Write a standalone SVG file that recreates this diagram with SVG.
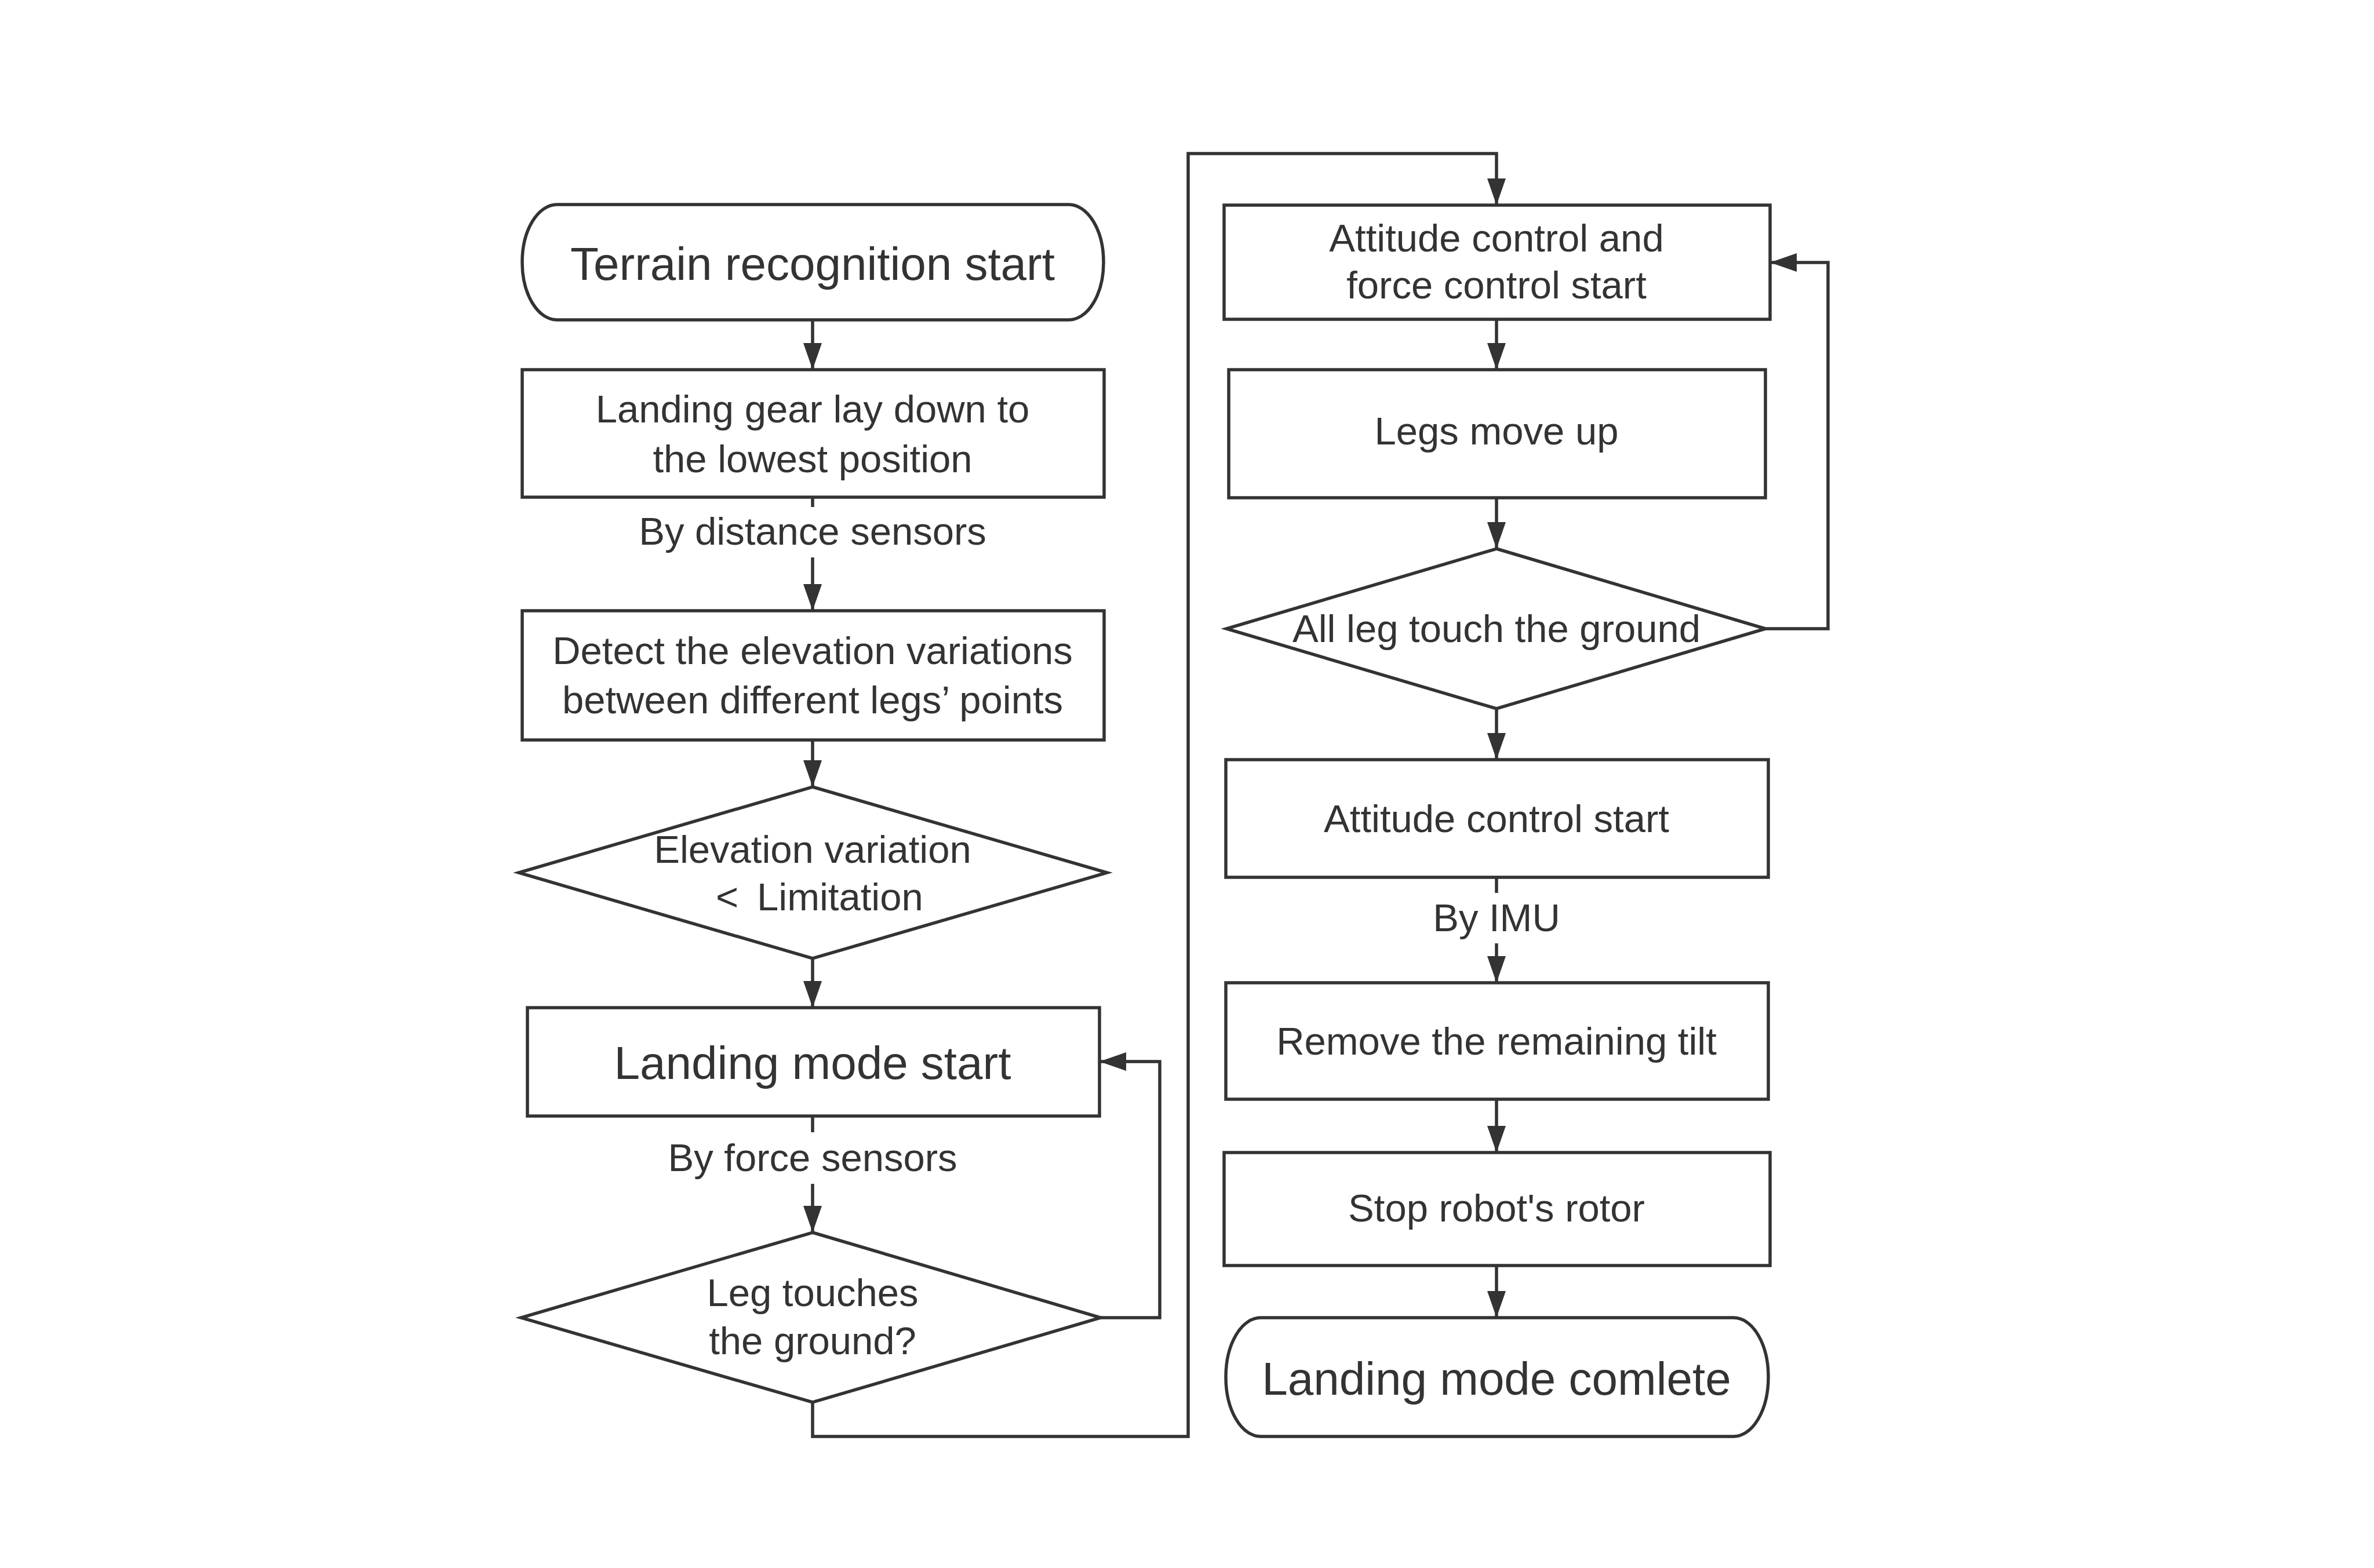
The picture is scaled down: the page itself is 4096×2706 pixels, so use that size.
<svg xmlns="http://www.w3.org/2000/svg" width="4096" height="2706" viewBox="0 0 4096 2706">
<style>
.n{fill:#ffffff;stroke:#333333;stroke-width:5.5}
.t{font-family:"Liberation Sans",Arial,sans-serif;font-size:67px;fill:#333333;text-anchor:middle}
.tl{font-family:"Liberation Sans",Arial,sans-serif;font-size:80px;fill:#333333;text-anchor:middle}
.c{fill:none;stroke:#333333;stroke-width:5.5}
</style>
<defs>
<marker id="ah" markerUnits="userSpaceOnUse" markerWidth="48" markerHeight="34" refX="46" refY="16" orient="auto">
<path d="M0,0 L46,16 L0,32 Z" fill="#333333"/>
</marker>
</defs>
<rect width="4096" height="2706" fill="#ffffff"/>
<g id="connectors">
<line class="c" x1="1402" y1="552" x2="1402" y2="638" marker-end="url(#ah)"/>
<line class="c" x1="1402" y1="858" x2="1402" y2="875"/>
<line class="c" x1="1402" y1="962" x2="1402" y2="1054" marker-end="url(#ah)"/>
<line class="c" x1="1402" y1="1277" x2="1402" y2="1358" marker-end="url(#ah)"/>
<line class="c" x1="1402" y1="1654" x2="1402" y2="1739" marker-end="url(#ah)"/>
<line class="c" x1="1402" y1="1926" x2="1402" y2="1954"/>
<line class="c" x1="1402" y1="2043" x2="1402" y2="2127" marker-end="url(#ah)"/>
<polyline class="c" points="1899,2274 2001,2274 2001,1832 1897,1832" marker-end="url(#ah)"/>
<polyline class="c" points="1402,2420 1402,2479 2050,2479 2050,265 2582,265 2582,354" marker-end="url(#ah)"/>
<line class="c" x1="2582" y1="551" x2="2582" y2="638" marker-end="url(#ah)"/>
<line class="c" x1="2582" y1="859" x2="2582" y2="947" marker-end="url(#ah)"/>
<polyline class="c" points="3046,1085 3154,1085 3154,453 3054,453" marker-end="url(#ah)"/>
<line class="c" x1="2582" y1="1223" x2="2582" y2="1311" marker-end="url(#ah)"/>
<line class="c" x1="2582" y1="1514" x2="2582" y2="1541"/>
<line class="c" x1="2582" y1="1628" x2="2582" y2="1696" marker-end="url(#ah)"/>
<line class="c" x1="2582" y1="1897" x2="2582" y2="1989" marker-end="url(#ah)"/>
<line class="c" x1="2582" y1="2184" x2="2582" y2="2274" marker-end="url(#ah)"/>
<text class="t" x="1402" y="940">By distance sensors</text>
<text class="t" x="1402" y="2021">By force sensors</text>
<text class="t" x="2582" y="1607">By IMU</text>
</g>
<g id="terrain-start">
<rect class="n" x="901" y="353" width="1003" height="199" rx="60" ry="99"/>
<text class="tl" x="1402" y="483">Terrain recognition start</text>
</g>
<g id="landing-gear">
<rect class="n" x="901" y="638" width="1004" height="220"/>
<text class="t" x="1402" y="729">Landing gear lay down to</text>
<text class="t" x="1402" y="815">the lowest position</text>
</g>
<g id="detect-elevation">
<rect class="n" x="901" y="1054" width="1004" height="223"/>
<text class="t" x="1402" y="1146">Detect the elevation variations</text>
<text class="t" x="1402" y="1231">between different legs’ points</text>
</g>
<g id="elevation-decision">
<polygon class="n" points="1402,1358 1910,1506 1402,1654 895,1506"/>
<text class="t" x="1402" y="1489">Elevation variation</text>
<text class="t" x="1235" y="1571" style="text-anchor:start">&lt;</text>
<text class="t" x="1306" y="1571" style="text-anchor:start">Limitation</text>
</g>
<g id="landing-mode-start">
<rect class="n" x="910" y="1739" width="987" height="187"/>
<text class="tl" x="1402" y="1862">Landing mode start</text>
</g>
<g id="leg-touches">
<polygon class="n" points="1402,2127 1899,2274 1402,2420 899,2274"/>
<text class="t" x="1402" y="2254">Leg touches</text>
<text class="t" x="1402" y="2337">the ground?</text>
</g>
<g id="attitude-force-start">
<rect class="n" x="2112" y="354" width="942" height="197"/>
<text class="t" x="2582" y="434">Attitude control and</text>
<text class="t" x="2582" y="515">force control start</text>
</g>
<g id="legs-move-up">
<rect class="n" x="2120" y="638" width="926" height="221"/>
<text class="t" x="2582" y="767">Legs move up</text>
</g>
<g id="all-leg-touch">
<polygon class="n" points="2582,947 3046,1085 2582,1223 2116,1085"/>
<text class="t" x="2582" y="1108">All leg touch the ground</text>
</g>
<g id="attitude-start">
<rect class="n" x="2115" y="1311" width="936" height="203"/>
<text class="t" x="2582" y="1436">Attitude control start</text>
</g>
<g id="remove-tilt">
<rect class="n" x="2115" y="1696" width="936" height="201"/>
<text class="t" x="2582" y="1820">Remove the remaining tilt</text>
</g>
<g id="stop-rotor">
<rect class="n" x="2112" y="1989" width="942" height="195"/>
<text class="t" x="2582" y="2108">Stop robot's rotor</text>
</g>
<g id="landing-complete">
<rect class="n" x="2115" y="2274" width="936" height="205" rx="60" ry="102"/>
<text class="tl" x="2582" y="2407">Landing mode comlete</text>
</g>
</svg>
